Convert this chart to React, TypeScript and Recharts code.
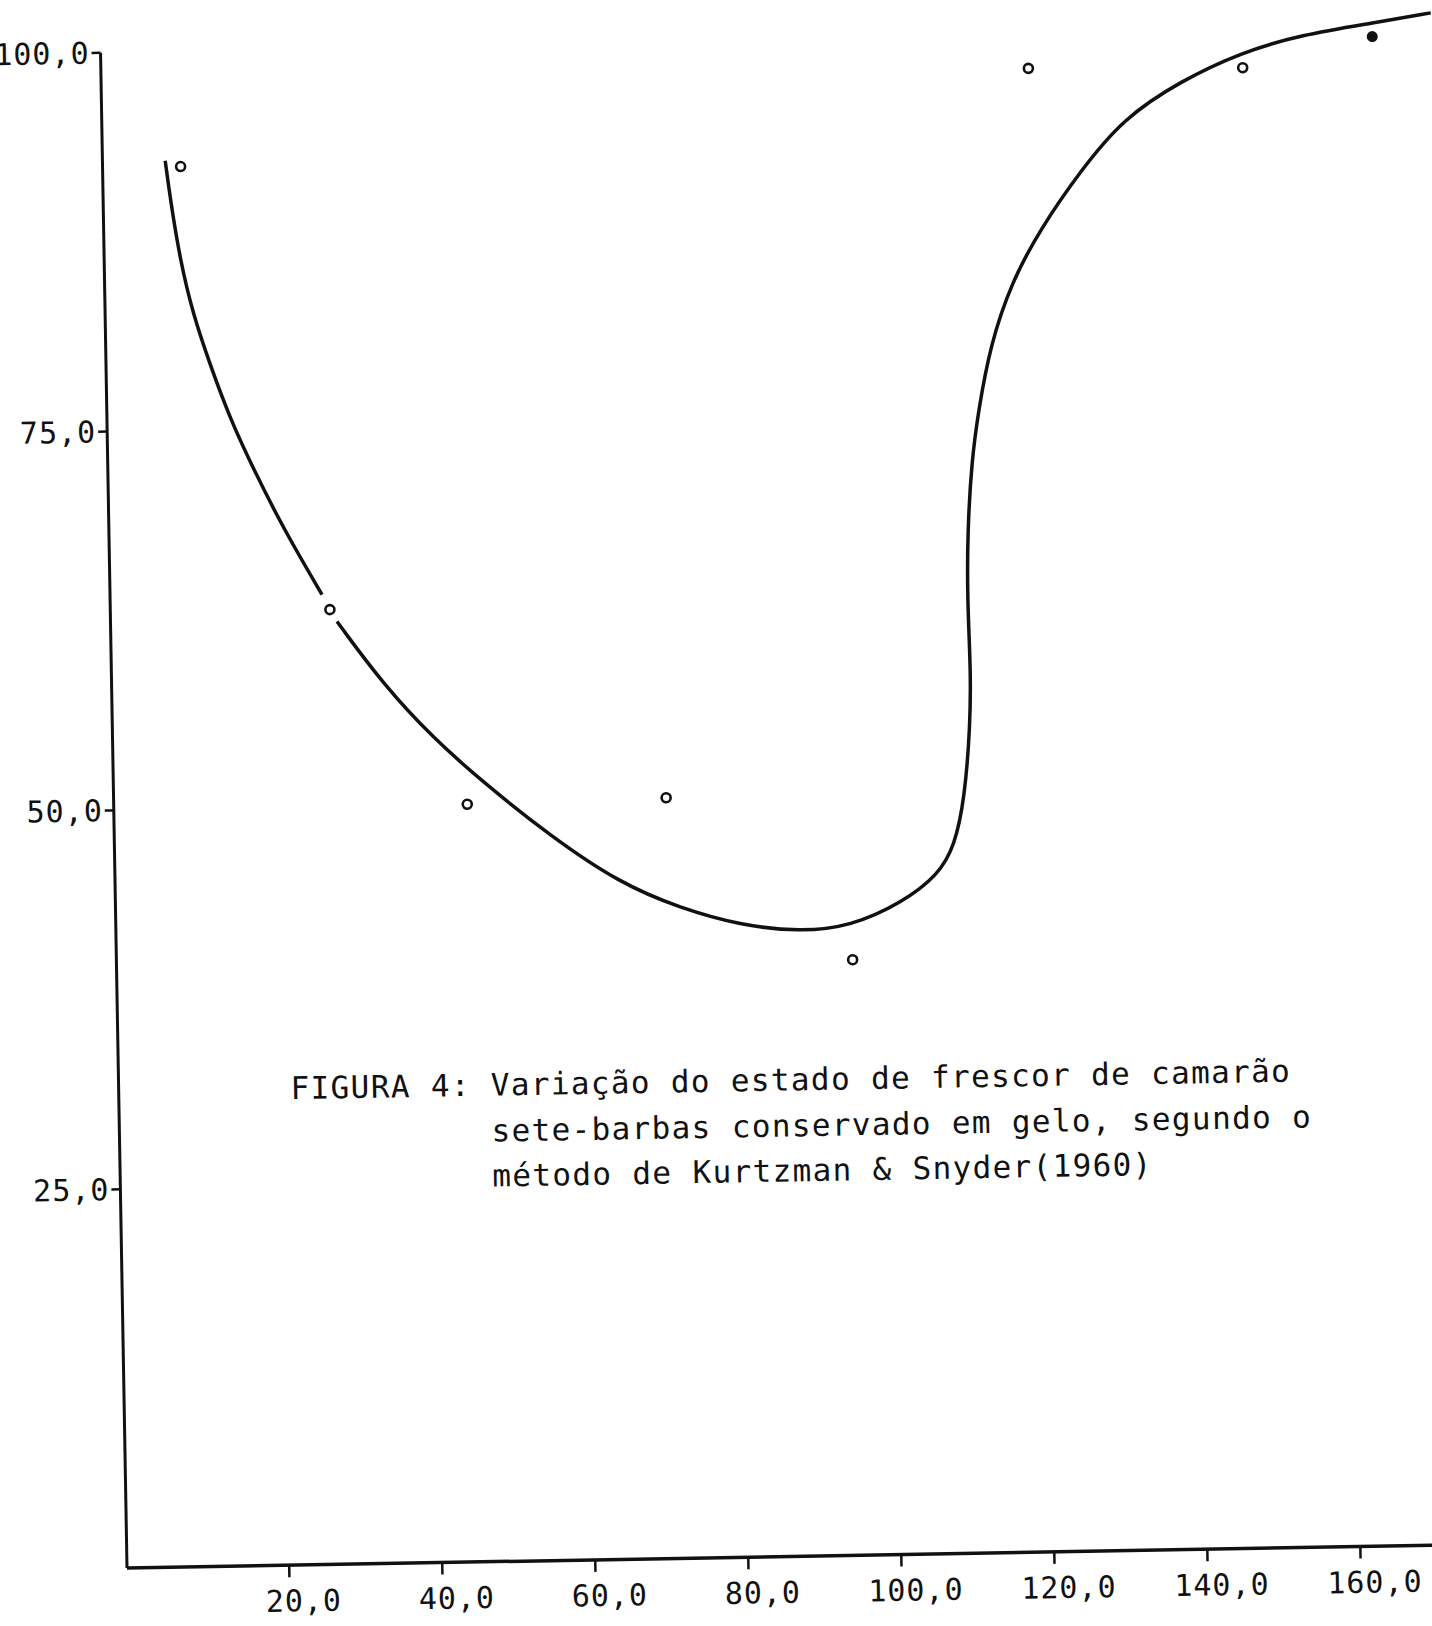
import React from "react";
import {
  ComposedChart,
  Line,
  Scatter,
  XAxis,
  YAxis,
  ReferenceLine,
} from "recharts";

// storage time (h) of the sampled lots and the Kurtzman & Snyder score
const sampleHours = [9, 27.5, 45, 71, 95, 120, 148, 165];
const sampleScores = [92.4, 63.0, 50.0, 50.2, 39.3, 97.9, 97.7, 99.6];

// hand-drawn fitted curve (null = pen lifted at a marker)
const curveX = [
  7.0, 7.6, 8.7, 10.3, 12.4, 14.9, 17.8, 21.6, 26.5, 27.5, 28.4, 34.3, 40.7,
  47.2, 55.8, 64.8, 72.6, 80.4, 88.2, 94.8, 101.6, 106.4, 108.6, 110.0, 110.9,
  111.1, 110.8, 111.0, 111.7, 112.7, 114.4, 117.3, 121.2, 126.6, 132.3, 139.9,
  147.8, 155.7, 165.2, 172.7,
];
const curveY = [
  92.8, 90.2, 86.3, 82.6, 79.3, 75.7, 72.4, 68.4, 64.0, null, 62.2, 58.0, 54.4,
  51.4, 47.8, 44.6, 42.9, 41.7, 41.2, 41.5, 43.0, 44.8, 46.7, 49.8, 54.6, 58.3,
  62.9, 67.5, 72.1, 75.4, 79.7, 83.8, 87.3, 91.1, 94.5, 96.9, 98.7, 99.8, 100.5,
  101.1,
];

const xTicks = [20, 40, 60, 80, 100, 120, 140, 160];
const yTicks = [25, 50, 75, 100];

const captionLines = [
  "FIGURA 4: Variação do estado de frescor de camarão",
  "          sete-barbas conservado em gelo, segundo o",
  "          método de Kurtzman & Snyder(1960)",
];

const INK = "#111";
const MONO = "'DejaVu Sans Mono', monospace";
const TICK = { fill: INK, fontSize: 30, fontFamily: MONO, letterSpacing: 1 };

const points = sampleHours.map((x, i) => ({ x, y: sampleScores[i] }));
const curve = curveX.map((x, i) => ({ x, y: curveY[i] }));
const lastHour = sampleHours[sampleHours.length - 1];

const fmt = (v: number) => v.toFixed(1).replace(".", ",");

function Marker(props: any) {
  const { cx, cy, payload } = props;
  if (cx == null || cy == null) return null;
  const filled = payload && payload.x === lastHour;
  return filled ? (
    <circle cx={cx} cy={cy} r={5.5} fill={INK} />
  ) : (
    <circle cx={cx} cy={cy} r={4.5} fill="#fff" stroke={INK} strokeWidth={2.6} />
  );
}

export default function App() {
  return (
    <div
      style={{
        position: "absolute",
        left: 0,
        top: 0,
        width: 1432,
        height: 1626,
        overflow: "hidden",
        background: "#fff",
      }}
    >
      {/* the scan is tilted by about one degree */}
      <div
        style={{
          position: "absolute",
          left: 0,
          top: 0,
          width: 1480,
          height: 1626,
          transform: "rotate(-1deg)",
          transformOrigin: "130px 1568px",
        }}
      >
        <ComposedChart
          width={1480}
          height={1626}
          margin={{ top: 7, right: 20, bottom: 0, left: 0 }}
        >
          <XAxis
            type="number"
            dataKey="x"
            domain={[-1.2, 173]}
            ticks={xTicks}
            interval={0}
            tickFormatter={fmt}
            tick={{ ...TICK, dx: 14 }}
            tickSize={12}
            tickMargin={13}
            height={58}
            axisLine={{ stroke: INK, strokeWidth: 3.5 }}
            tickLine={{ stroke: INK, strokeWidth: 2.5 }}
          />
          <YAxis
            type="number"
            dataKey="y"
            domain={[0, 103]}
            ticks={yTicks}
            interval={0}
            tickFormatter={fmt}
            tick={TICK}
            tickSize={9}
            tickMargin={2}
            width={127}
            axisLine={false}
            tickLine={{ stroke: INK, strokeWidth: 2.5 }}
          />
          <ReferenceLine
            segment={[
              { x: -1.2, y: 0 },
              { x: -1.2, y: 100 },
            ]}
            stroke={INK}
            strokeWidth={3}
            ifOverflow="visible"
          />
          <Line
            data={curve}
            dataKey="y"
            type="basis"
            stroke={INK}
            strokeWidth={3.5}
            dot={false}
            activeDot={false}
            connectNulls={false}
            isAnimationActive={false}
          />
          <Scatter
            data={points}
            dataKey="y"
            shape={Marker}
            isAnimationActive={false}
          />
        </ComposedChart>
        <div
          style={{
            position: "absolute",
            left: 299,
            top: 1092 - 23,
            fontFamily: MONO,
            fontSize: 31,
            letterSpacing: 1.35,
            lineHeight: "45.5px",
            color: INK,
            whiteSpace: "pre",
          }}
        >
          {captionLines.join("\n")}
        </div>
      </div>
    </div>
  );
}
